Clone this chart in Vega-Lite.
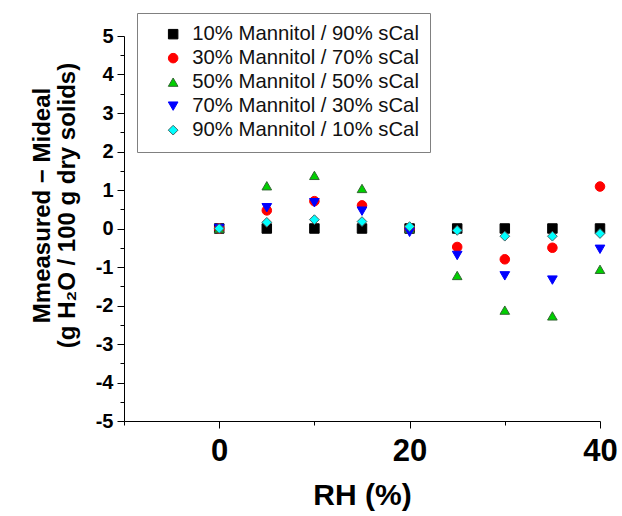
{
  "$schema": "https://vega.github.io/schema/vega-lite/v6.json",
  "width": 476,
  "height": 385,
  "autosize": {"type": "none"},
  "padding": {"left": 124, "top": 36, "right": 22, "bottom": 95},
  "background": "white",
  "config": {
    "view": {"stroke": null},
    "font": "Liberation Sans",
    "axis": {"grid": false, "domainColor": "#000", "tickColor": "#000", "labelColor": "#000", "titleColor": "#000", "labelFont": "Liberation Sans", "titleFont": "Liberation Sans"}
  },
  "data": {
    "values": [
      {"rh": 0, "v": 0, "s": "10% Mannitol / 90% sCal"},
      {"rh": 5, "v": 0, "s": "10% Mannitol / 90% sCal"},
      {"rh": 10, "v": 0, "s": "10% Mannitol / 90% sCal"},
      {"rh": 15, "v": 0, "s": "10% Mannitol / 90% sCal"},
      {"rh": 20, "v": 0, "s": "10% Mannitol / 90% sCal"},
      {"rh": 25, "v": 0, "s": "10% Mannitol / 90% sCal"},
      {"rh": 30, "v": 0, "s": "10% Mannitol / 90% sCal"},
      {"rh": 35, "v": 0, "s": "10% Mannitol / 90% sCal"},
      {"rh": 40, "v": 0, "s": "10% Mannitol / 90% sCal"},
      {"rh": 0, "v": 0, "s": "30% Mannitol / 70% sCal"},
      {"rh": 5, "v": 0.47, "s": "30% Mannitol / 70% sCal"},
      {"rh": 10, "v": 0.71, "s": "30% Mannitol / 70% sCal"},
      {"rh": 15, "v": 0.6, "s": "30% Mannitol / 70% sCal"},
      {"rh": 20, "v": 0, "s": "30% Mannitol / 70% sCal"},
      {"rh": 25, "v": -0.48, "s": "30% Mannitol / 70% sCal"},
      {"rh": 30, "v": -0.8, "s": "30% Mannitol / 70% sCal"},
      {"rh": 35, "v": -0.5, "s": "30% Mannitol / 70% sCal"},
      {"rh": 40, "v": 1.09, "s": "30% Mannitol / 70% sCal"},
      {"rh": 0, "v": 0, "s": "50% Mannitol / 50% sCal"},
      {"rh": 5, "v": 1.11, "s": "50% Mannitol / 50% sCal"},
      {"rh": 10, "v": 1.38, "s": "50% Mannitol / 50% sCal"},
      {"rh": 15, "v": 1.04, "s": "50% Mannitol / 50% sCal"},
      {"rh": 20, "v": 0, "s": "50% Mannitol / 50% sCal"},
      {"rh": 25, "v": -1.22, "s": "50% Mannitol / 50% sCal"},
      {"rh": 30, "v": -2.12, "s": "50% Mannitol / 50% sCal"},
      {"rh": 35, "v": -2.27, "s": "50% Mannitol / 50% sCal"},
      {"rh": 40, "v": -1.06, "s": "50% Mannitol / 50% sCal"},
      {"rh": 0, "v": 0, "s": "70% Mannitol / 30% sCal"},
      {"rh": 5, "v": 0.54, "s": "70% Mannitol / 30% sCal"},
      {"rh": 10, "v": 0.67, "s": "70% Mannitol / 30% sCal"},
      {"rh": 15, "v": 0.45, "s": "70% Mannitol / 30% sCal"},
      {"rh": 20, "v": -0.1, "s": "70% Mannitol / 30% sCal"},
      {"rh": 25, "v": -0.7, "s": "70% Mannitol / 30% sCal"},
      {"rh": 30, "v": -1.23, "s": "70% Mannitol / 30% sCal"},
      {"rh": 35, "v": -1.34, "s": "70% Mannitol / 30% sCal"},
      {"rh": 40, "v": -0.54, "s": "70% Mannitol / 30% sCal"},
      {"rh": 0, "v": 0, "s": "90% Mannitol / 10% sCal"},
      {"rh": 5, "v": 0.16, "s": "90% Mannitol / 10% sCal"},
      {"rh": 10, "v": 0.23, "s": "90% Mannitol / 10% sCal"},
      {"rh": 15, "v": 0.18, "s": "90% Mannitol / 10% sCal"},
      {"rh": 20, "v": 0.05, "s": "90% Mannitol / 10% sCal"},
      {"rh": 25, "v": -0.05, "s": "90% Mannitol / 10% sCal"},
      {"rh": 30, "v": -0.2, "s": "90% Mannitol / 10% sCal"},
      {"rh": 35, "v": -0.2, "s": "90% Mannitol / 10% sCal"},
      {"rh": 40, "v": -0.13, "s": "90% Mannitol / 10% sCal"}
    ]
  },
  "mark": {"type": "point", "filled": true, "opacity": 1, "strokeWidth": 1},
  "encoding": {
    "x": {
      "field": "rh", "type": "quantitative",
      "scale": {"domain": [-10, 40], "nice": false, "zero": false},
      "axis": {
        "values": [-10, 0, 10, 20, 30, 40],
        "labelExpr": "datum.value >= 0 && datum.value % 20 === 0 ? datum.label : ''",
        "tickSize": {"condition": {"test": "datum.value % 20 === 0", "value": 7}, "value": 4},
        "labelFontSize": 31, "labelFontWeight": "bold", "labelPadding": 8,
        "title": "RH (%)", "titleFontSize": 30, "titleFontWeight": "bold", "titlePadding": 14,
        "labelFlush": false
      }
    },
    "y": {
      "field": "v", "type": "quantitative",
      "scale": {"domain": [-5, 5], "nice": false},
      "axis": {
        "values": [-5, -4.5, -4, -3.5, -3, -2.5, -2, -1.5, -1, -0.5, 0, 0.5, 1, 1.5, 2, 2.5, 3, 3.5, 4, 4.5, 5],
        "labelExpr": "abs(datum.value % 1) < 0.01 ? '' + datum.value : ''",
        "tickSize": {"condition": {"test": "abs(datum.value % 1) < 0.01", "value": 7}, "value": 4},
        "labelFontSize": 20, "labelFontWeight": "bold", "labelPadding": 4,
        "title": ["Mmeasured − Mideal", "(g H₂O / 100 g dry solids)"],
        "titleFontSize": 24, "titleFontWeight": "bold", "titleLineHeight": 25,
        "titleAngle": -90, "titleBaseline": "middle", "titleAlign": "center",
        "titleX": -82, "titleY": 169
      }
    },
    "size": {
      "field": "s", "type": "nominal",
      "scale": {"domain": ["10% Mannitol / 90% sCal", "30% Mannitol / 70% sCal", "50% Mannitol / 50% sCal", "70% Mannitol / 30% sCal", "90% Mannitol / 10% sCal"],
                "range": [90, 95, 130, 130, 100]}
    },
    "shape": {
      "field": "s", "type": "nominal",
      "scale": {"domain": ["10% Mannitol / 90% sCal", "30% Mannitol / 70% sCal", "50% Mannitol / 50% sCal", "70% Mannitol / 30% sCal", "90% Mannitol / 10% sCal"],
                "range": ["square", "circle", "triangle-up", "triangle-down", "diamond"]},
      "legend": {
        "title": null, "orient": "none", "legendX": 13, "legendY": -23,
        "strokeColor": "#808080", "fillColor": "white",
        "padding": 11, "labelFontSize": 20.3, "labelFont": "Liberation Sans", "labelColor": "#111",
        "rowPadding": 3, "symbolOffset": 15, "labelOffset": 9,
        "symbolStrokeWidth": 1, "labelLimit": 400
      }
    },
    "fill": {
      "field": "s", "type": "nominal",
      "scale": {"domain": ["10% Mannitol / 90% sCal", "30% Mannitol / 70% sCal", "50% Mannitol / 50% sCal", "70% Mannitol / 30% sCal", "90% Mannitol / 10% sCal"],
                "range": ["#000000", "#ff0000", "#00d000", "#0000ff", "#00ffff"]}
    },
    "stroke": {
      "field": "s", "type": "nominal",
      "scale": {"domain": ["10% Mannitol / 90% sCal", "30% Mannitol / 70% sCal", "50% Mannitol / 50% sCal", "70% Mannitol / 30% sCal", "90% Mannitol / 10% sCal"],
                "range": ["#000000", "#ff0000", "#336633", "#0000ff", "#446666"]}
    }
  }
}
